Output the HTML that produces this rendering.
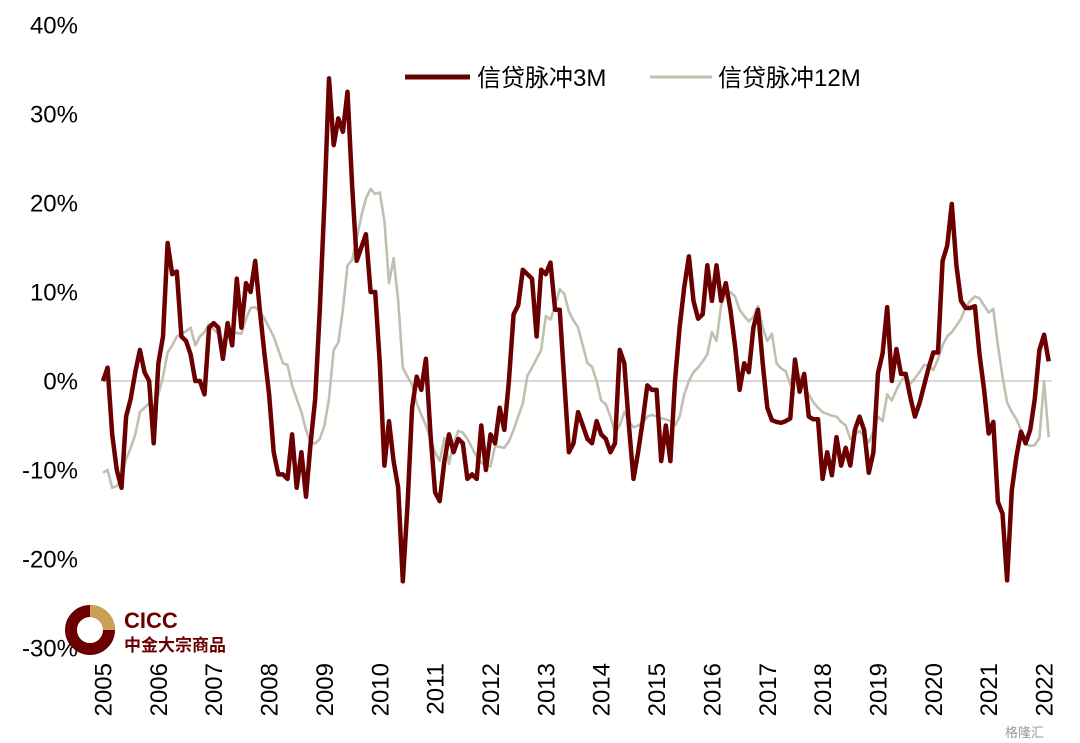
<!DOCTYPE html>
<html><head><meta charset="utf-8"><style>
body{margin:0;background:#fff;}
svg{display:block;font-family:"Liberation Sans","Noto Sans CJK SC",sans-serif;}
</style></head><body>
<svg id="chart" width="1080" height="743" viewBox="0 0 1080 743">
<line x1="100" y1="381" x2="1052" y2="381" stroke="#d9d9d9" stroke-width="2"/>
<g id="yaxis"></g>
<g id="xaxis"></g>
<g id="series"></g>
<g>
<line x1="405" y1="77" x2="470" y2="77" stroke="#6b0000" stroke-width="5"/>
<text x="477" y="86" font-size="24" fill="#000">信贷脉冲3M</text>
<line x1="650" y1="77" x2="712" y2="77" stroke="#c0bfb0" stroke-width="3"/>
<text x="718" y="86" font-size="24" fill="#000">信贷脉冲12M</text>
</g>
<g>
<circle cx="90" cy="630" r="19" fill="none" stroke="#6b0000" stroke-width="12"/>
<path d="M90 605 A25 25 0 0 1 115 630 L103 630 A13 13 0 0 0 90 617 Z" fill="#c9a055"/>
<circle cx="93" cy="632" r="8" fill="#fff"/>
<text x="124" y="628" font-size="22" font-weight="bold" fill="#6b0000">CICC</text>
<text x="124" y="651" font-size="17" font-weight="bold" fill="#6b0000">中金大宗商品</text>
</g>
<text x="1005" y="737" font-size="13" fill="#999">格隆汇</text>
</svg>
<script>
const yTicks=[40,30,20,10,0,-10,-20,-30];
const years=[2005,2006,2007,2008,2009,2010,2011,2012,2013,2014,2015,2016,2017,2018,2019,2020,2021,2022];
const impulse3M=[
0,1.5,-6,-10,-12,-4,-2,1,3.5,1,0,-7,
2,5,15.5,12,12.3,5,4.5,3,0,0,-1.5,6,
6.5,6,2.5,6.5,4,11.5,6,11,10,13.5,8,3,
-1.5,-8,-10.5,-10.5,-11,-6,-12,-8,-13,-7,-2,8,
20,34,26.5,29.5,28,32.5,22,13.5,15,16.5,10,10,
2,-9.5,-4.5,-9,-12,-22.5,-14,-3,0.5,-1,2.5,-6,
-12.5,-13.5,-9,-6,-8,-6.5,-7,-11,-10.5,-11,-5,-10,
-6,-7,-3,-5.5,0,7.5,8.5,12.5,12,11.5,5,12.5,
12,13.3,8,8,0,-8,-7,-3.5,-5,-6.5,-7,-4.5,
-6,-6.5,-8,-7,3.5,2,-5,-11,-8,-4.5,-0.5,-1,
-1,-9,-5,-9,0,6,10.5,14,9,7,7.5,13,
9,13,9,11,8,4,-1,2,1,6,8,2,
-3,-4.4,-4.6,-4.7,-4.5,-4.2,2.4,-1.2,0.8,-4,-4.3,-4.3,
-11,-8,-10.6,-6.3,-9.5,-7.5,-9.5,-5.5,-4,-5.5,-10.3,-8,
0.9,3.1,8.3,0,3.6,0.8,0.8,-1.8,-4,-2.5,-0.5,1.5,
3.2,3.2,13.5,15.2,19.9,13,9,8.2,8.2,8.4,3,-1,
-5.9,-4.6,-13.6,-14.9,-22.4,-12.3,-8.5,-5.7,-7,-5.5,-2,3.5,
5.2,2.2];
const impulse12M=[
-10.3,-10,-12,-11.8,-11,-8.8,-7.5,-6,-3.5,-3,-2.5,-3,
-1.5,0.5,3.2,4,5,5.3,5.6,6,4,5,5.5,6.4,
5.8,5.3,4.5,5,5.5,5.4,5.3,7,8.2,8.3,7.8,7,
6,5,3.5,2,1.8,-0.5,-2,-3.5,-5.5,-7,-7,-6.5,
-5,-2,3.5,4.3,8,13,13.6,16,18.5,20.5,21.6,21,
21.2,18,11,13.8,9,1.5,0.5,-0.4,-2.5,-3.8,-5,-6.5,
-8,-9,-6.4,-9.3,-7,-5.6,-5.8,-6.5,-7.5,-8.5,-9.2,-9.5,
-9.6,-7.3,-7.4,-7.5,-6.8,-5.5,-4,-2.5,0.6,1.5,2.5,3.5,
7.3,6.9,8.5,10.3,9.8,7.8,6.8,6,4,2,1.6,0,
-2.2,-2.6,-4,-5.8,-5,-3.5,-4.5,-5.2,-5,-4.7,-4,-3.8,
-4,-4.2,-4.3,-4.5,-5,-4,-1.5,0,1,1.5,2.2,3,
5.5,4.5,8.5,9.8,10,9.5,8,7.3,6.7,7.2,8.4,6,
4.5,5.3,2,1.4,1.1,-0.4,1.7,0.5,-0.6,-1.5,-2.4,-3,
-3.5,-3.7,-3.9,-4,-4.6,-5,-6.5,-6,-5.6,-6.2,-6.9,-5.7,
-4,-4.5,-1.5,-2.2,-1,0,0.6,-0.3,0.3,1,1.8,1.8,
1.2,2.5,4,5,5.5,6.2,7,8.3,9,9.5,9.3,8.5,
7.7,8.1,4,0.5,-2.4,-3.5,-4.3,-5.5,-7.1,-7.3,-7.2,-6.4,
0,-6.3];
const NS='http://www.w3.org/2000/svg';
function xS(m){return 103+m*4.613;}
function yS(v){return 381-8.9*v;}
const ya=document.getElementById('yaxis');
yTicks.forEach(t=>{
 const el=document.createElementNS(NS,'text');
 
 
 el.setAttribute('x',78);el.setAttribute('y',yS(t)+8.5);
 el.setAttribute('text-anchor','end');el.setAttribute('font-size','24');
 el.textContent=t+'%';ya.appendChild(el);
});
const xa=document.getElementById('xaxis');
years.forEach((yr,i)=>{
 const x=xS(i*12);
 const el=document.createElementNS(NS,'text');
 
 
 el.setAttribute('transform','translate('+(x+8.5)+',663) rotate(-90)');
 el.setAttribute('text-anchor','end');el.setAttribute('font-size','24');
 el.textContent=yr;xa.appendChild(el);
});
function line(data,color,w,name){
 const p=document.createElementNS(NS,'polyline');
 
 
 p.setAttribute('points',data.map((v,i)=>xS(i).toFixed(1)+','+yS(v).toFixed(1)).join(' '));
 p.setAttribute('fill','none');p.setAttribute('stroke',color);
 p.setAttribute('stroke-width',w);p.setAttribute('stroke-linejoin','round');
 document.getElementById('series').appendChild(p);
}
line(impulse12M,'#c0bfb0',2.6,'line-12m');
line(impulse3M,'#6b0000',4.5,'line-3m');
</script>
</body></html>
